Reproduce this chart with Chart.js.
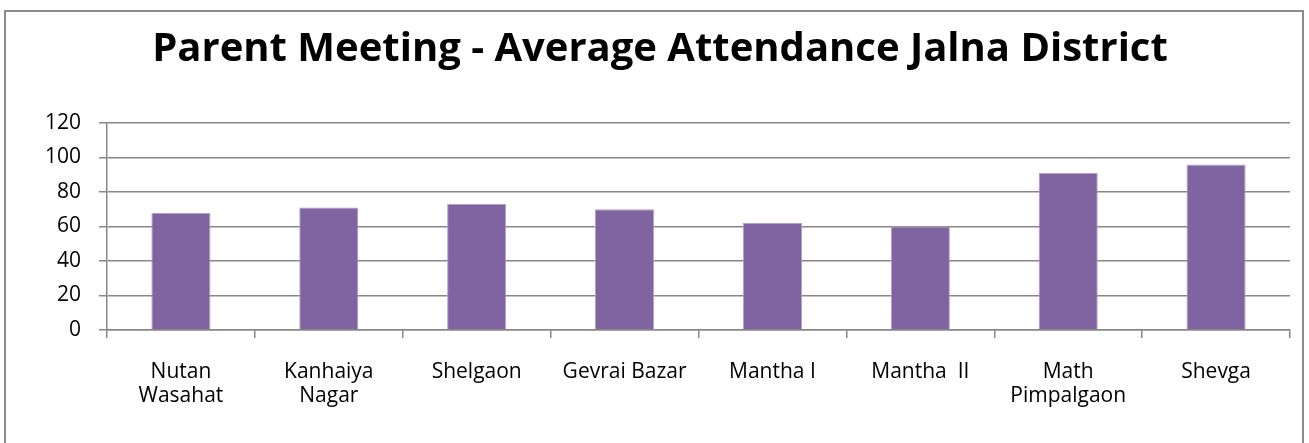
<!DOCTYPE html>
<html>
<head>
<meta charset="utf-8">
<script src="https://cdn.jsdelivr.net/npm/chart.js@4"></script>
<style>
    body { margin: 0; background: #fff; }
    #wrap { position: relative; width: 1309px; height: 443px; }
    #frame {
        position: absolute; left: 4px; top: 10px; width: 1296px; height: 440px;
        border: 2px solid #8c8c8c; pointer-events: none;
    }
</style>
</head>
<body>
<div id="wrap">
    <canvas id="chart" width="1309" height="443"></canvas>
    <div id="frame"></div>
</div>
<script>
const schools = [
    ['Nutan', 'Wasahat'], ['Kanhaiya', 'Nagar'], 'Shelgaon', 'Gevrai Bazar',
    'Mantha I', 'Mantha  II', ['Math', 'Pimpalgaon'], 'Shevga'
];
const attendance = [68, 71, 73, 70, 62, 60, 91, 96];
const yTicks = [0, 20, 40, 60, 80, 100, 120];

const gridGray = '#878787';
const labelFont = { family: 'Open Sans', size: 21, lineHeight: 1.15 };

const ctx = document.querySelector('#chart').getContext('2d');

new Chart(ctx, {
    type: 'bar',
    data: {
        labels: schools,
        datasets: [
            {
                label: 'Average Attendance',
                data: attendance,
                backgroundColor: '#8064A2',
                borderColor: '#B3A2C7',
                borderWidth: 1,
                barPercentage: 0.4,
                categoryPercentage: 1
            }
        ]
    },
    options: {
        responsive: false,
        animation: false,
        layout: { padding: { left: 30, right: 19, top: 10, bottom: 0 } },
        plugins: {
            legend: { display: false },
            tooltip: { enabled: false },
            title: {
                display: true,
                text: 'Parent Meeting - Average Attendance Jalna District',
                color: '#000',
                font: { family: 'Open Sans', size: 40, weight: 'bold', lineHeight: 1.2 },
                padding: { top: 16, bottom: 49 }
            }
        },
        scales: {
            x: {
                grid: {
                    offset: true,
                    drawOnChartArea: false,
                    tickLength: 8,
                    color: gridGray,
                    lineWidth: 1.5
                },
                border: { color: gridGray, width: 1.5 },
                ticks: { color: '#000', font: labelFont, padding: 22, maxRotation: 0, autoSkip: false },
                afterFit: (scale) => { scale.height = 113; }
            },
            y: {
                min: 0,
                max: 120,
                afterBuildTicks: (scale) => { scale.ticks = yTicks.map(v => ({ value: v })); },
                grid: { color: gridGray, lineWidth: 1.5, tickLength: 8 },
                border: { color: gridGray, width: 1.5 },
                ticks: { color: '#000', font: labelFont, padding: 18 },
                afterFit: (scale) => { scale.width = 77; }
            }
        }
    }
})
</script>
</body>
</html>
